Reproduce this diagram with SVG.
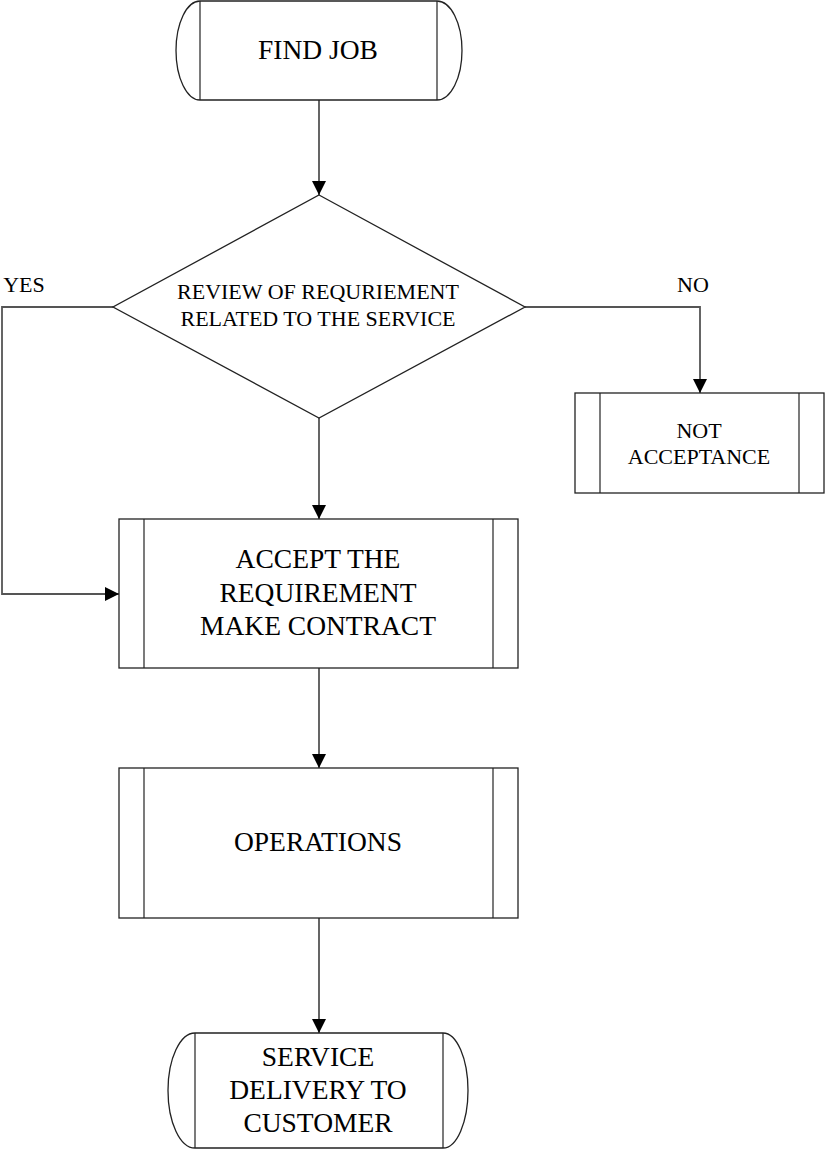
<svg xmlns="http://www.w3.org/2000/svg" width="825" height="1150" viewBox="0 0 825 1150">
<style>
.s{fill:#fff;stroke:#222;stroke-width:1.3}
.l{fill:none;stroke:#222;stroke-width:1.2}
.c{fill:none;stroke:#555;stroke-width:1.8}
text{font-family:"Liberation Serif","Times New Roman",serif;fill:#000;text-anchor:middle}
.b{font-size:27.5px}
.m{font-size:22px}
</style>
<defs>
<marker id="ah" markerUnits="userSpaceOnUse" markerWidth="14" markerHeight="16" viewBox="0 0 14 16" refX="14" refY="8" orient="auto">
<path d="M0,1 L14,8 L0,15 Z" fill="#000"/>
</marker>
</defs>
<rect width="825" height="1150" fill="#fff"/>
<g id="connectors">
<line class="c" x1="319" y1="100" x2="319" y2="195" marker-end="url(#ah)"/>
<line class="c" x1="319" y1="418" x2="319" y2="519" marker-end="url(#ah)"/>
<polyline class="c" points="113,307 2,307 2,594 119,594" marker-end="url(#ah)"/>
<polyline class="c" points="525,307 700,307 700,393" marker-end="url(#ah)"/>
<line class="c" x1="319" y1="668" x2="319" y2="768" marker-end="url(#ah)"/>
<line class="c" x1="319" y1="918" x2="319" y2="1033" marker-end="url(#ah)"/>
<text class="m" x="24" y="292">YES</text>
<text class="m" x="693" y="292">NO</text>
</g>
<g id="find-job">
<path class="s" d="M200,1 A24,49.5 0 0 0 200,100 L437,100 A25,49.5 0 0 0 437,1 Z"/>
<line class="l" x1="200" y1="1" x2="200" y2="100"/>
<line class="l" x1="437" y1="1" x2="437" y2="100"/>
<text class="b" x="318" y="59">FIND JOB</text>
</g>
<g id="review">
<polygon class="s" points="319,195 525,307 319,418 113,307"/>
<text class="m" x="318" y="299">REVIEW OF REQURIEMENT</text>
<text class="m" x="318" y="326">RELATED TO THE SERVICE</text>
</g>
<g id="not-acceptance">
<rect class="s" x="575" y="393" width="249" height="100"/>
<line class="l" x1="600" y1="393" x2="600" y2="493"/>
<line class="l" x1="799" y1="393" x2="799" y2="493"/>
<text class="m" x="699" y="438">NOT</text>
<text class="m" x="699" y="464">ACCEPTANCE</text>
</g>
<g id="accept">
<rect class="s" x="119" y="519" width="399" height="149"/>
<line class="l" x1="144" y1="519" x2="144" y2="668"/>
<line class="l" x1="493" y1="519" x2="493" y2="668"/>
<text class="b" x="318" y="568">ACCEPT THE</text>
<text class="b" x="318" y="602">REQUIREMENT</text>
<text class="b" x="318" y="635">MAKE CONTRACT</text>
</g>
<g id="operations">
<rect class="s" x="119" y="768" width="399" height="150"/>
<line class="l" x1="144" y1="768" x2="144" y2="918"/>
<line class="l" x1="493" y1="768" x2="493" y2="918"/>
<text class="b" x="318" y="851">OPERATIONS</text>
</g>
<g id="service-delivery">
<path class="s" d="M195,1033 A27,57.5 0 0 0 195,1148 L443,1148 A25,57.5 0 0 0 443,1033 Z"/>
<line class="l" x1="195" y1="1033" x2="195" y2="1148"/>
<line class="l" x1="443" y1="1033" x2="443" y2="1148"/>
<text class="b" x="318" y="1066">SERVICE</text>
<text class="b" x="318" y="1099">DELIVERY TO</text>
<text class="b" x="318" y="1132">CUSTOMER</text>
</g>
</svg>
